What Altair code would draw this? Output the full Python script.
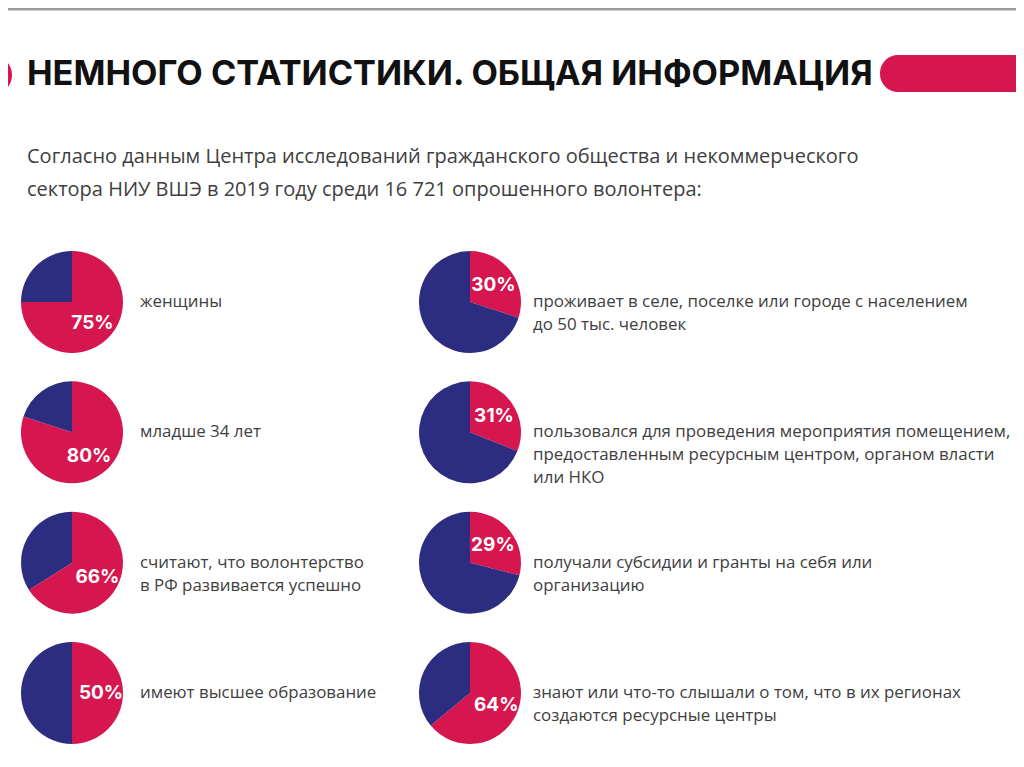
import altair as alt
import numpy as np
import pandas as pd

# ---- data -------------------------------------------------------------
title_text = "НЕМНОГО СТАТИСТИКИ. ОБЩАЯ ИНФОРМАЦИЯ"
subtitle_lines = [
    "Согласно данным Центра исследований гражданского общества и некоммерческого",
    "сектора НИУ ВШЭ в 2019 году среди 16 721 опрошенного волонтера:",
]
pcts = [75, 80, 66, 50, 30, 31, 29, 64]
cols = [0, 0, 0, 0, 1, 1, 1, 1]
rows = [0, 1, 2, 3, 0, 1, 2, 3]
descriptions = [
    "женщины",
    "младше 34 лет",
    "считают, что волонтерство\nв РФ развивается успешно",
    "имеют высшее образование",
    "проживает в селе, поселке или городе с населением\nдо 50 тыс. человек",
    "пользовался для проведения мероприятия помещением,\nпредоставленным ресурсным центром, органом власти\nили НКО",
    "получали субсидии и гранты на себя или\nорганизацию",
    "знают или что-то слышали о том, что в их регионах\nсоздаются ресурсные центры",
]

PINK = "#D6164F"
NAVY = "#2C2C80"
TEXT = "#404040"

# ---- derived tables ------------------------------------------------------
slices = []
for i, p in enumerate(pcts):
    a = p / 100 * 2 * np.pi
    slices.append(dict(pie=i, col=cols[i], row=rows[i], part="share", t0=0.0, t1=a))
    slices.append(dict(pie=i, col=cols[i], row=rows[i], part="rest", t0=a, t1=2 * np.pi))
slices = pd.DataFrame(slices)

info = pd.DataFrame(dict(
    pie=range(len(pcts)), col=cols, row=rows, pct=pcts,
    label=[f"{p}%" for p in pcts],
    mid=[p / 100 * np.pi for p in pcts],
    desc=descriptions,
))

W, H = 1008, 748
xs = alt.Scale(domain=[0, 1], range=[64, 462])
ys = alt.Scale(domain=[0, 3], range=[294, 685])
X = alt.X("col:Q", scale=xs, axis=None)
Y = alt.Y("row:Q", scale=ys, axis=None)

pies = alt.Chart(slices).mark_arc(outerRadius=51, stroke=None).encode(
    x=X, y=Y,
    theta=alt.Theta("t0:Q", scale=None, stack=False),
    theta2="t1:Q",
    color=alt.Color("part:N", scale=alt.Scale(domain=["share", "rest"], range=[PINK, NAVY]), legend=None),
)

pct_labels = alt.Chart(info).mark_text(
    font="Inter", fontWeight="bold", fontSize=19, color="white", align="center", baseline="middle"
).encode(
    x=X, y=Y,
    theta=alt.Theta("mid:Q", scale=None),
    radius=alt.value(29),
    text="label:N",
)

def desc_layer(c, dx):
    return alt.Chart(info).transform_filter(alt.datum.col == c).mark_text(
        font="Open Sans", fontSize=16.9, color=TEXT, align="left", baseline="middle",
        lineBreak="\n", lineHeight=23, dx=dx
    ).encode(x=X, y=Y, text="desc:N")

desc_left = desc_layer(0, 68)
desc_right = desc_layer(1, 63)

deco = pd.DataFrame(dict(k=[0]))
top_line = alt.Chart(deco).mark_rule(color="#9a9a9a", strokeWidth=3).encode(
    x=alt.value(0), x2=alt.value(W), y=alt.value(1)
)
left_pill = alt.Chart(deco).mark_rect(color=PINK, cornerRadius=20).encode(
    x=alt.value(-40), x2=alt.value(4), y=alt.value(47), y2=alt.value(87)
)
right_pill = alt.Chart(deco).mark_rect(color=PINK, cornerRadius=18).encode(
    x=alt.value(872), x2=alt.value(W + 40), y=alt.value(47), y2=alt.value(84)
)

titles = pd.DataFrame(dict(t=[title_text]))
title = alt.Chart(titles).mark_text(
    font="Inter", fontWeight="bold", fontSize=34.3, color="#111111", align="left", baseline="middle"
).encode(x=alt.value(19), y=alt.value(67), text="t:N")

subs = pd.DataFrame(dict(t=subtitle_lines, n=[0, 1]))
subtitle = alt.Chart(subs).mark_text(
    font="Open Sans", fontSize=20, color=TEXT, align="left", baseline="middle"
).encode(
    x=alt.value(19),
    y=alt.Y("n:Q", scale=alt.Scale(domain=[0, 1], range=[149, 182]), axis=None),
    text="t:N",
)

chart = alt.layer(
    top_line, left_pill, right_pill, title, subtitle, pies, pct_labels, desc_left, desc_right
).resolve_scale(y="independent").properties(
    width=W, height=H, autosize=alt.AutoSizeParams(type="none"),
    padding=0, background="white"
).configure_view(stroke=None)

chart.save("out.html", embed_options={"renderer": "svg", "actions": False})
